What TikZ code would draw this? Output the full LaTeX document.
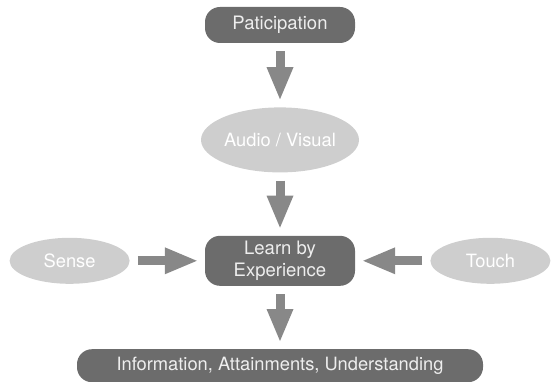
\documentclass[tikz,border=0pt]{standalone}
\usepackage{fontspec}
\setmainfont{TeX Gyre Heros}
\usetikzlibrary{positioning, arrows.meta, shapes.geometric}
\definecolor{boxgray}{RGB}{108,108,108}
\definecolor{ovalgray}{RGB}{206,206,206}
\definecolor{arrowgray}{RGB}{136,136,136}
\definecolor{lighttext}{RGB}{238,238,238}

\begin{document}
\begin{tikzpicture}[
    node distance=63pt and 75pt,
    block/.style={rectangle, rounded corners=15pt, fill=boxgray, text=lighttext,
                  minimum width=150pt, inner sep=0pt, align=center,
                  font=\fontsize{18.5}{22}\selectfont},
    oval/.style={ellipse, fill=ovalgray, text=white, inner sep=0pt,
                 minimum width=120pt, minimum height=46pt,
                 font=\fontsize{18.3}{21}\selectfont},
    arr/.style={-{Triangle[length=32pt, width=27pt, line width=0pt]},
                line width=9pt, draw=arrowgray, shorten <=8pt, shorten >=8pt}
]
\useasboundingbox (0,0) rectangle (553pt,-382pt);

\node[block, minimum height=36pt] (partic) at (280pt,-25pt) {Paticipation};
\node[oval, below=64pt of partic, minimum width=158pt, minimum height=65pt] (audio) {Audio / Visual};
\node[block, below=of audio, minimum height=50pt] (learn) {Learn by\\Experience};
\node[block, below=of learn, minimum width=406pt, minimum height=33pt,
      font=\fontsize{18.3}{22}\selectfont] (info) {Information, Attainments, Understanding};
\node[oval, left=of learn] (sense) {Sense};
\node[oval, right=of learn] (touch) {Touch};

\draw[arr] (partic) -- (audio);
\draw[arr] (audio) -- (learn);
\draw[arr] (learn) -- (info);
\draw[arr] (sense) -- (learn);
\draw[arr] (touch) -- (learn);
\end{tikzpicture}
\end{document}
